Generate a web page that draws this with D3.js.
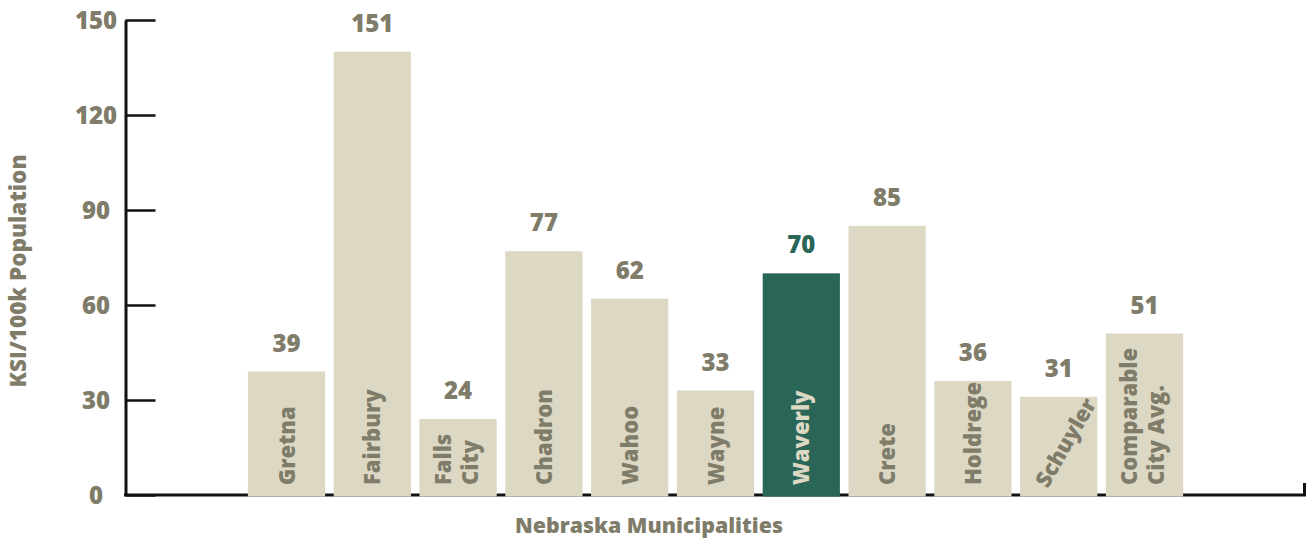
<!DOCTYPE html>
<html><head><meta charset="utf-8">
<script src="https://cdn.jsdelivr.net/npm/d3@7"></script>
<style>
body{margin:0;background:#fff}
text{font-family:'Open Sans',sans-serif;font-weight:800}
</style>
</head><body>
<svg id="c" width="1309" height="538"></svg>
<script>
const categories = ["Gretna","Fairbury","Falls City","Chadron","Wahoo","Wayne","Waverly","Crete","Holdrege","Schuyler","Comparable City Avg."];
const labelLines = [["Gretna"],["Fairbury"],["Falls","City"],["Chadron"],["Wahoo"],["Wayne"],["Waverly"],["Crete"],["Holdrege"],["Schuyler"],["Comparable","City Avg."]];
const labelRotation = [-90,-90,-90,-90,-90,-90,-90,-90,-90,-60,-90];
const values = [39,151,24,77,62,33,70,85,36,31,51];
const highlight = "Waverly";
const yTicks = [0,30,60,90,120,150];
const barCap = 140; // tallest bar is drawn truncated in the original
const yTitle = "KSI/100k Population";
const xTitle = "Nebraska Municipalities";

const textCol = "#7f7c69", barCol = "#ddd8c4", hiCol = "#2a6657", axisCol = "#111";

const svg = d3.select("#c");
const y = d3.scaleLinear().domain([0,150]).range([495,20]);
const x = d3.scaleBand().domain(categories).range([243.6,1187.4]).paddingInner(0.1).paddingOuter(0.05);

// y axis
const yAxis = d3.axisLeft(y).tickValues(yTicks).tickSizeInner(-30).tickSizeOuter(0).tickPadding(0);
const gy = svg.append("g").attr("transform","translate(125.5,0)").call(yAxis);
gy.select(".domain").attr("stroke",axisCol).attr("stroke-width",3);
gy.selectAll(".tick line").attr("stroke",axisCol).attr("stroke-width",2.5);
gy.selectAll(".tick text").attr("x",-29.5).attr("dy","0.36em").attr("text-anchor","middle")
  .attr("fill",textCol).style("font-size","24px").style("font-family","'Open Sans',sans-serif").style("font-weight","800");

// baseline with end tick
const x0 = 124, x1 = 1304.5;
svg.append("path").attr("d",d3.line()([[x0,y(0)],[x1,y(0)],[x1,y(0)-12]]))
  .attr("fill","none").attr("stroke",axisCol).attr("stroke-width",3);

// bars
const data = categories.map((c,i)=>({c, v:values[i], lines:labelLines[i], rot:labelRotation[i]}));
svg.append("g").selectAll("rect").data(data).join("rect")
  .attr("x",d=>x(d.c)).attr("width",x.bandwidth())
  .attr("y",d=>y(Math.min(d.v,barCap))).attr("height",d=>y(0)-y(Math.min(d.v,barCap))+1.5)
  .attr("fill",d=>d.c===highlight?hiCol:barCol);

// value labels
svg.append("g").selectAll("text").data(data).join("text")
  .attr("x",d=>x(d.c)+x.bandwidth()/2).attr("y",d=>y(Math.min(d.v,barCap))-20)
  .attr("text-anchor","middle").attr("fill",d=>d.c===highlight?hiCol:textCol)
  .style("font-size","24px").text(d=>d.v);

// category labels inside bars
const lg = svg.append("g").selectAll("g").data(data).join("g")
  .attr("transform",d=>{
    const cx = x(d.c)+x.bandwidth()/2;
    if (d.rot!==-90) return `translate(${cx-11},${y(0)-6}) rotate(${d.rot})`;
    return `translate(${cx},${y(0)-10}) rotate(${d.rot})`;
  });
lg.each(function(d){
  const n = d.lines.length;
  d.lines.forEach((t,i)=>{
    const off = d.rot!==-90 ? 0 : (i-(n-1)/2)*27 + (n>1?6:8);
    d3.select(this).append("text").attr("x",0).attr("y",off)
      .attr("text-anchor","start").attr("fill",d.c===highlight?barCol:textCol)
      .style("font-size","22px").text(t);
  });
});

// axis titles
svg.append("text").attr("transform","translate(26,271) rotate(-90)").attr("text-anchor","middle")
  .attr("fill",textCol).style("font-size","22.5px").text(yTitle);
svg.append("text").attr("x",649).attr("y",533).attr("text-anchor","middle")
  .attr("fill",textCol).style("font-size","21.3px").text(xTitle);
</script>
</body></html>
